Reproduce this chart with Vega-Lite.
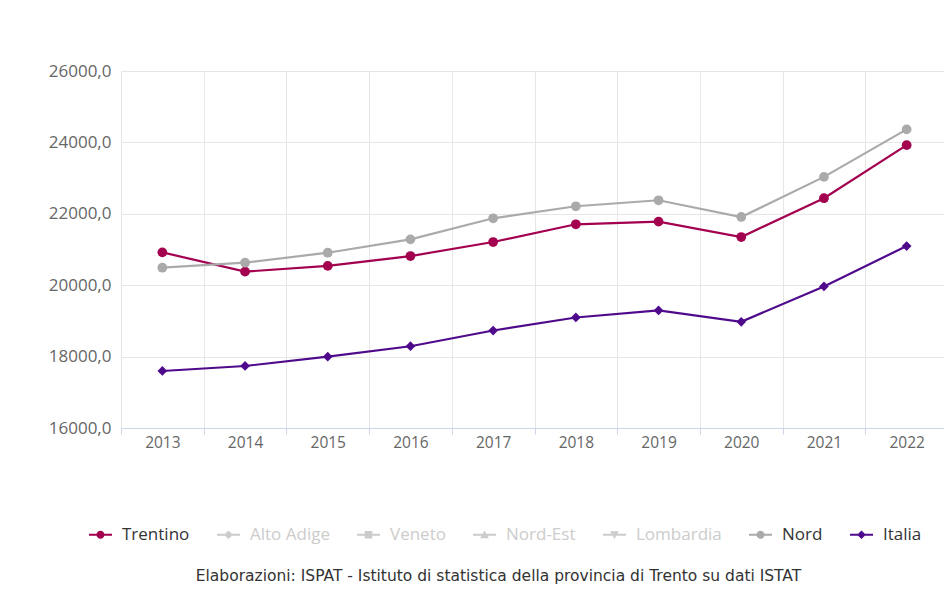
{
  "$schema": "https://vega.github.io/schema/vega-lite/v6.json",
  "autosize": "none",
  "width": 827,
  "height": 357,
  "padding": {"left": 121, "top": 71, "right": 0, "bottom": 164},
  "background": "white",
  "title": {
    "text": "Elaborazioni: ISPAT - Istituto di statistica della provincia di Trento su dati ISTAT",
    "orient": "bottom",
    "anchor": "middle",
    "font": "DejaVu Sans",
    "fontSize": 15.5,
    "fontWeight": "normal",
    "color": "#333333",
    "offset": 26,
    "dx": -36
  },
  "data": {
    "values": [
      {"anno": "2013", "serie": "Trentino", "valore": 20920},
      {"anno": "2014", "serie": "Trentino", "valore": 20380},
      {"anno": "2015", "serie": "Trentino", "valore": 20540},
      {"anno": "2016", "serie": "Trentino", "valore": 20816},
      {"anno": "2017", "serie": "Trentino", "valore": 21209},
      {"anno": "2018", "serie": "Trentino", "valore": 21706},
      {"anno": "2019", "serie": "Trentino", "valore": 21782},
      {"anno": "2020", "serie": "Trentino", "valore": 21350},
      {"anno": "2021", "serie": "Trentino", "valore": 22436},
      {"anno": "2022", "serie": "Trentino", "valore": 23923},
      {"anno": "2013", "serie": "Nord", "valore": 20490},
      {"anno": "2014", "serie": "Nord", "valore": 20630},
      {"anno": "2015", "serie": "Nord", "valore": 20910},
      {"anno": "2016", "serie": "Nord", "valore": 21285},
      {"anno": "2017", "serie": "Nord", "valore": 21874},
      {"anno": "2018", "serie": "Nord", "valore": 22211},
      {"anno": "2019", "serie": "Nord", "valore": 22379},
      {"anno": "2020", "serie": "Nord", "valore": 21911},
      {"anno": "2021", "serie": "Nord", "valore": 23034},
      {"anno": "2022", "serie": "Nord", "valore": 24364},
      {"anno": "2013", "serie": "Italia", "valore": 17597},
      {"anno": "2014", "serie": "Italia", "valore": 17737},
      {"anno": "2015", "serie": "Italia", "valore": 17997},
      {"anno": "2016", "serie": "Italia", "valore": 18290},
      {"anno": "2017", "serie": "Italia", "valore": 18731},
      {"anno": "2018", "serie": "Italia", "valore": 19096},
      {"anno": "2019", "serie": "Italia", "valore": 19292},
      {"anno": "2020", "serie": "Italia", "valore": 18975},
      {"anno": "2021", "serie": "Italia", "valore": 19966},
      {"anno": "2022", "serie": "Italia", "valore": 21097}
    ]
  },
  "encoding": {
    "x": {
      "field": "anno",
      "type": "ordinal",
      "scale": {"type": "band", "paddingInner": 0, "paddingOuter": 0},
      "axis": {
        "title": null,
        "labelAngle": 0,
        "tickBand": "extent",
        "grid": true,
        "gridColor": "#e6e6e6",
        "domainColor": "#ccd6eb",
        "tickColor": "#ccd6eb",
        "tickSize": 6,
        "labelPadding": 1,
        "labelFont": "Open Sans",
        "labelFontSize": 15.5,
        "labelColor": "#666666"
      }
    },
    "y": {
      "field": "valore",
      "type": "quantitative",
      "scale": {"domain": [16000, 26000], "nice": false, "zero": false},
      "axis": {
        "title": null,
        "values": [16000, 18000, 20000, 22000, 24000, 26000],
        "labelExpr": "replace(format(datum.value, '.1f'), '.', ',')",
        "domain": false,
        "ticks": false,
        "labelPadding": 10,
        "gridColor": "#e6e6e6",
        "labelFont": "Open Sans",
        "labelFontSize": 17,
        "labelColor": "#666666"
      }
    }
  },
  "layer": [
    {
      "mark": {"type": "line", "strokeWidth": 2.2},
      "encoding": {
        "color": {
          "field": "serie",
          "type": "nominal",
          "scale": {
            "domain": ["Trentino", "Alto Adige", "Veneto", "Nord-Est", "Lombardia", "Nord", "Italia"],
            "range": ["#a3004f", "#cccccc", "#cccccc", "#cccccc", "#cccccc", "#aaaaaa", "#4f0a8c"]
          },
          "legend": {
            "orient": "none",
            "legendX": -32,
            "legendY": 452,
            "direction": "horizontal",
            "title": null,
            "symbolType": "M-1,-0.09H1V0.09H-1Z M-0.35,0A0.35,0.35 0 1,1 0.35,0A0.35,0.35 0 1,1 -0.35,0Z",
            "symbolSize": 529,
            "symbolStrokeWidth": 0,
            "symbolOpacity": 1,
            "labelFont": "Open Sans",
            "labelFontSize": 17,
            "labelColor": "#333333",
            "labelOffset": 10,
            "columnPadding": 27,
            "encode": {
              "symbols": {
                "update": {
                  "fill": {"signal": "scale('color', datum.value)"},
                  "strokeWidth": {"value": 0},
                  "shape": {"signal": "datum.value === 'Veneto' ? 'M-1,-0.09H1V0.09H-1Z M-0.33,-0.33H0.33V0.33H-0.33Z' : datum.value === 'Nord-Est' ? 'M-1,-0.09H1V0.09H-1Z M-0.38,0.3L0,-0.38L0.38,0.3Z' : datum.value === 'Lombardia' ? 'M-1,-0.09H1V0.09H-1Z M-0.38,-0.3L0.38,-0.3L0,0.38Z' : (datum.value === 'Alto Adige' || datum.value === 'Italia') ? 'M-1,-0.09H1V0.09H-1Z M-0.38,0L0,-0.38L0.38,0L0,0.38Z' : 'M-1,-0.09H1V0.09H-1Z M-0.35,0A0.35,0.35 0 1,1 0.35,0A0.35,0.35 0 1,1 -0.35,0Z'"}
                }
              },
              "labels": {
                "update": {
                  "fill": {"signal": "indexof(['Alto Adige','Veneto','Nord-Est','Lombardia'], datum.value) >= 0 ? '#cccccc' : '#333333'"}
                }
              }
            }
          }
        }
      }
    },
    {
      "mark": {"type": "point", "filled": true, "opacity": 1, "size": 95},
      "encoding": {
        "color": {"field": "serie", "type": "nominal", "legend": null},
        "shape": {
          "field": "serie",
          "type": "nominal",
          "scale": {"domain": ["Trentino", "Nord", "Italia"], "range": ["circle", "circle", "diamond"]},
          "legend": null
        }
      }
    }
  ]
}
